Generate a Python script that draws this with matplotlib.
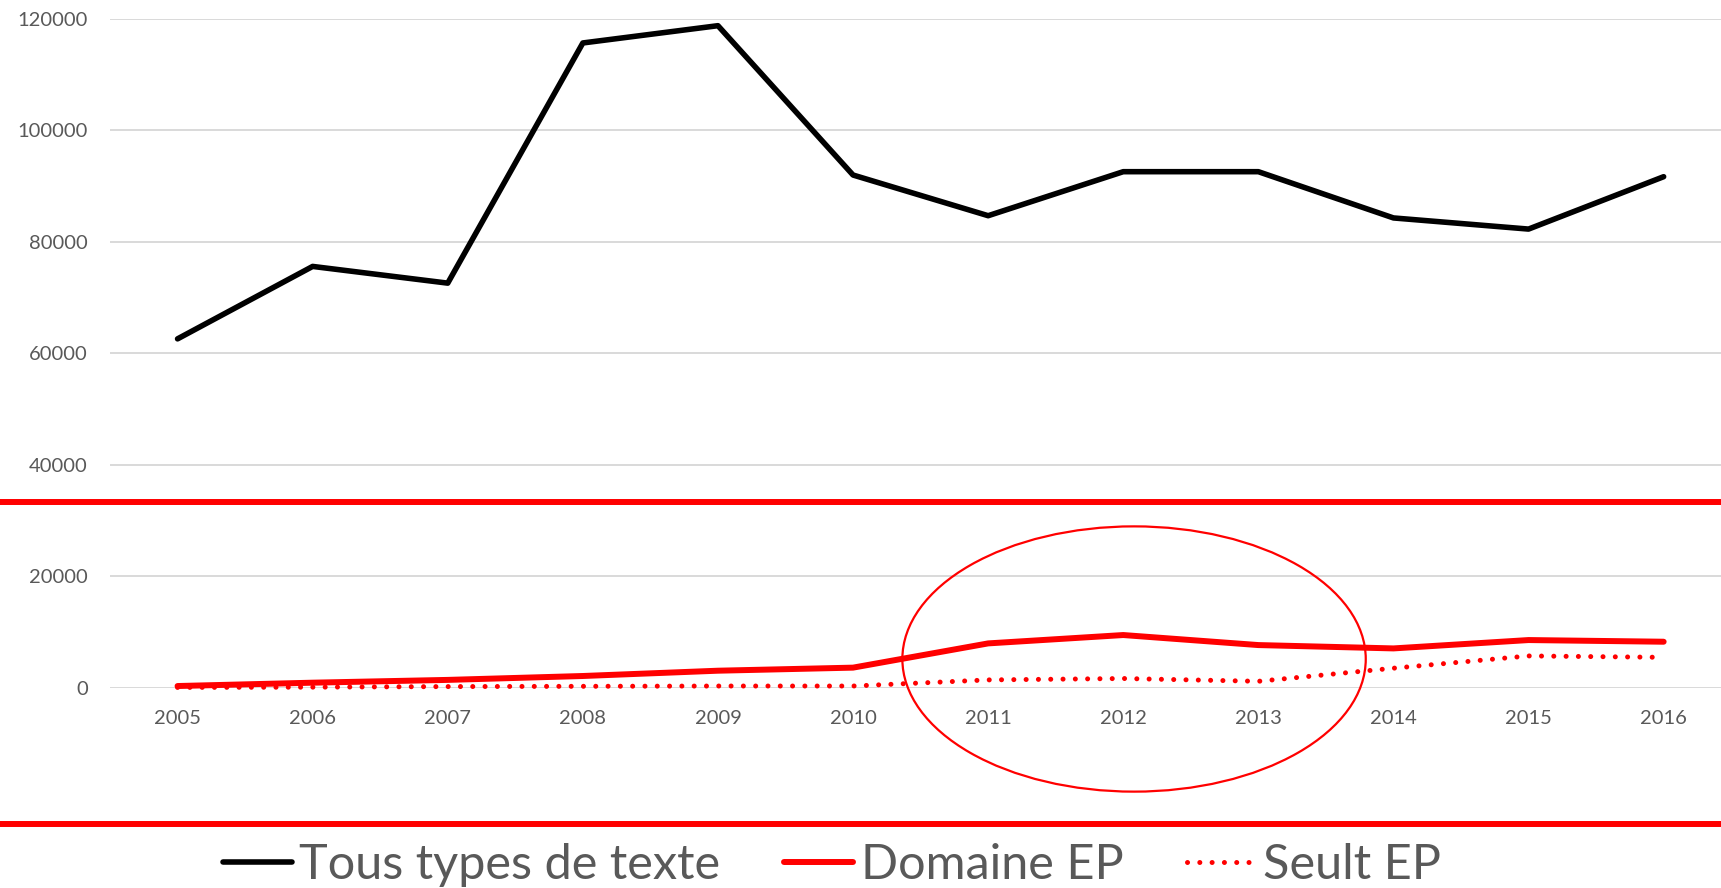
import matplotlib
matplotlib.use("Agg")
import matplotlib.pyplot as plt
from matplotlib.patches import Ellipse
from matplotlib.transforms import blended_transform_factory

plt.rcParams['font.family'] = ['Lato', 'DejaVu Sans']

years = ['2005', '2006', '2007', '2008', '2009', '2010',
         '2011', '2012', '2013', '2014', '2015', '2016']
tous_types = [62600, 75600, 72600, 115700, 118800, 92000,
              84700, 92600, 92600, 84300, 82300, 91700]
domaine_ep = [300, 900, 1400, 2100, 3050, 3600,
              7950, 9450, 7650, 7050, 8550, 8250]
seult_ep = [50, 100, 200, 250, 300, 300,
            1400, 1650, 1150, 3500, 5700, 5450]
y_ticks = [0, 20000, 40000, 60000, 80000, 100000, 120000]
series_names = ['Tous types de texte', 'Domaine EP', 'Seult EP']

# annotation overlay values (data units)
red_band_levels = [33400, -24500]
ellipse_center = (7.08, 5150)
ellipse_size = (3.43, 47600)

W, H = 1721, 888
fig = plt.figure(figsize=(W / 100, H / 100), dpi=100)
ax = fig.add_axes([110 / W, 1 - 687.7 / H, (W - 110) / W, (687.7 - 19) / H])

x = list(range(len(years)))
tick_color = '#595959'

l1, = ax.plot(x, tous_types, color='black', lw=4.0, solid_capstyle='round',
              solid_joinstyle='round', clip_on=False, zorder=3)
l2, = ax.plot(x, domaine_ep, color='#ff0000', lw=4.3, solid_capstyle='round',
              solid_joinstyle='round', clip_on=False, zorder=3)
l3, = ax.plot(x, seult_ep, color='#ff0000', lw=3.6, dash_capstyle='round',
              linestyle=(0, (0.01, 2.45)), clip_on=False, zorder=3)

ax.set_xlim(-0.5, -0.5 + (W - 110) / 135.1)
ax.set_ylim(0, 120000)
ax.set_yticks(y_ticks)
ax.set_yticklabels([str(v) for v in y_ticks])
ax.set_xticks(x)
ax.set_xticklabels(years)
ax.tick_params(axis='both', length=0, colors=tick_color, labelsize=14.5)
ax.tick_params(axis='y', pad=16)
ax.tick_params(axis='x', pad=16)
for s in ax.spines.values():
    s.set_visible(False)
ax.grid(axis='y', color='#d9d9d9', lw=1.4, zorder=0)
ax.set_axisbelow(True)

# red horizontal bands spanning full width
trans = blended_transform_factory(fig.transFigure, ax.transData)
for lvl in red_band_levels:
    ax.plot([0, 1], [lvl, lvl], color='#ff0000', lw=4.3, transform=trans,
            clip_on=False, zorder=4, solid_capstyle='butt')

ell = Ellipse(ellipse_center, ellipse_size[0], ellipse_size[1], fill=False,
              edgecolor='#ff0000', lw=1.6, clip_on=False, zorder=5)
ax.add_patch(ell)

fig.legend([l1, l2, l3], series_names, loc='center',
           bbox_to_anchor=(832 / W, 1 - 865 / H), ncol=3, frameon=False,
           fontsize=35, labelcolor=tick_color, handlelength=1.43,
           handletextpad=0.15, columnspacing=1.3, borderpad=0)

fig.savefig('out.png', dpi=100)
